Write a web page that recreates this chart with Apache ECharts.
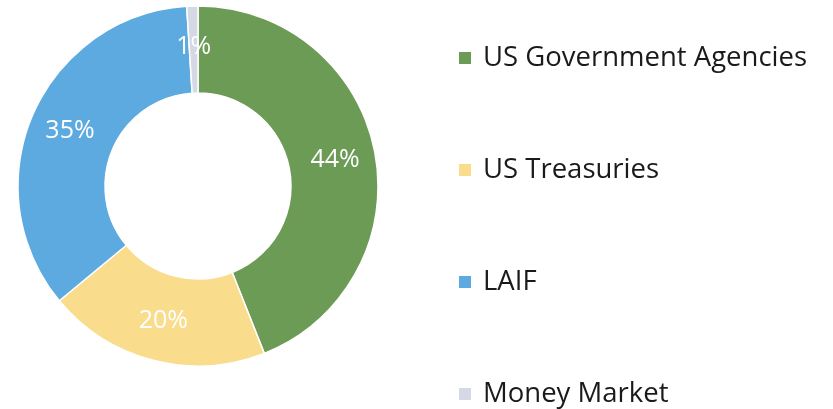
<!DOCTYPE html>
<html>
<head>
<meta charset="utf-8">
<script src="https://cdn.jsdelivr.net/npm/echarts@6/dist/echarts.min.js"></script>
<style>
  * { margin: 0; padding: 0; }
  html, body { background: #fff; }
  #chart { width: 833px; height: 409px; }
</style>
</head>
<body>
<div id="chart"></div>
<script>
// data
var categories = ['US Government Agencies', 'US Treasuries', 'LAIF', 'Money Market']
var values = [44, 20, 35, 1]
var colors = ['#6b9b55', '#f9dc8c', '#5caadf', '#d5d9e6']

var chart = echarts.init(document.getElementById('chart'))

var option = {
  animation: false,
  color: colors,
  legend: {
    orient: 'vertical',
    left: 457,
    top: 42,
    height: 400,
    padding: 0,
    icon: 'rect',
    itemWidth: 14,
    itemHeight: 14,
    itemGap: 80,
    data: categories,
    textStyle: {
      fontFamily: 'Open Sans',
      fontSize: 27.5,
      lineHeight: 32,
      color: '#1a1a1a',
      padding: [0, 0, 0, 6]
    }
  },
  series: [
    {
      type: 'pie',
      center: [198, 186],
      radius: [93, 180],
      startAngle: 90,
      clockwise: true,
      itemStyle: {
        borderColor: '#fff',
        borderWidth: 1.5
      },
      label: {
        show: true,
        position: 'inside',
        formatter: '{c}%',
        color: '#fff',
        fontFamily: 'Open Sans',
        fontSize: 25
      },
      labelLine: { show: false },
      data: categories.map(function (name, i) {
        return { name: name, value: values[i] }
      })
    }
  ]
}
chart.setOption(option)
</script>
</body>
</html>
